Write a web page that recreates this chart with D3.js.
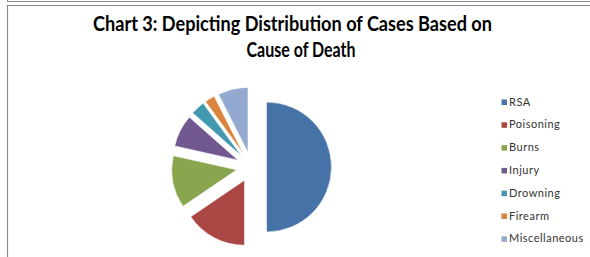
<!DOCTYPE html>
<html><head><meta charset="utf-8">
<script src="https://cdn.jsdelivr.net/npm/d3@7"></script>
<style>html,body{margin:0;padding:0;background:#fff;}svg{display:block;}</style>
</head><body>
<svg id="c" width="590" height="257"></svg>
<script>
const categories = ["RSA","Poisoning","Burns","Injury","Drowning","Firearm","Miscellaneous"];
const values = [50, 15.5, 13, 8, 3.5, 2.5, 7.5];
const colors = ["#4572A7","#AA4643","#89A54E","#71588F","#4198AF","#DB843D","#93A9CF"];
const titleLines = ["Chart 3: Depicting Distribution of Cases Based on","Cause of Death"];

const svg = d3.select("#c");
// frame lines
svg.append("line").attr("x1",7).attr("x2",590).attr("y1",1.5).attr("y2",1.5).attr("stroke","#8c8c8c").attr("stroke-width",1);
svg.append("line").attr("x1",7.5).attr("x2",7.5).attr("y1",0).attr("y2",2).attr("stroke","#8c8c8c");
svg.append("line").attr("x1",7).attr("x2",590).attr("y1",5.5).attr("y2",5.5).attr("stroke","#8c8c8c").attr("stroke-width",1);
svg.append("line").attr("x1",7.5).attr("x2",7.5).attr("y1",5).attr("y2",257).attr("stroke","#8c8c8c").attr("stroke-width",1.2);

// title
const tl = svg.append("g").attr("font-family","Lato, Open Sans, sans-serif").attr("font-weight","bold").attr("fill","#000");
tl.append("text").attr("x",292.5).attr("y",31).attr("text-anchor","middle").attr("font-size",20)
  .attr("textLength",399).attr("lengthAdjust","spacingAndGlyphs").text(titleLines[0]);
tl.append("text").attr("x",301).attr("y",57).attr("text-anchor","middle").attr("font-size",20)
  .attr("textLength",109).attr("lengthAdjust","spacingAndGlyphs").text(titleLines[1]);

// pie
const cx = 251.5, cy = 167, r = 65, explode = 15;
const pie = d3.pie().sort(null).value(d=>d)(values);
const arc = d3.arc().innerRadius(0).outerRadius(r);
const g = svg.append("g").attr("transform",`translate(${cx},${cy})`);
g.selectAll("path").data(pie).join("path")
  .attr("d",arc)
  .attr("transform",d=>{const a=(d.startAngle+d.endAngle)/2;return `translate(${explode*Math.sin(a)},${-explode*Math.cos(a)})`;})
  .attr("fill",(d,i)=>colors[i])
  .attr("stroke","#ffffff").attr("stroke-opacity",0.6).attr("stroke-width",1);

// legend
const y0 = 105.5, dy = 22.8;
const lg = svg.append("g").attr("font-family","Lato, Open Sans, sans-serif").attr("font-size",11).attr("letter-spacing","0.5px").attr("fill","#333");
categories.forEach((c,i)=>{
  lg.append("rect").attr("x",501.5).attr("y",y0+i*dy-6).attr("width",5.5).attr("height",5.5).attr("fill",colors[i]);
  lg.append("text").attr("x",509).attr("y",y0+i*dy).text(c);
});
</script>
</body></html>
